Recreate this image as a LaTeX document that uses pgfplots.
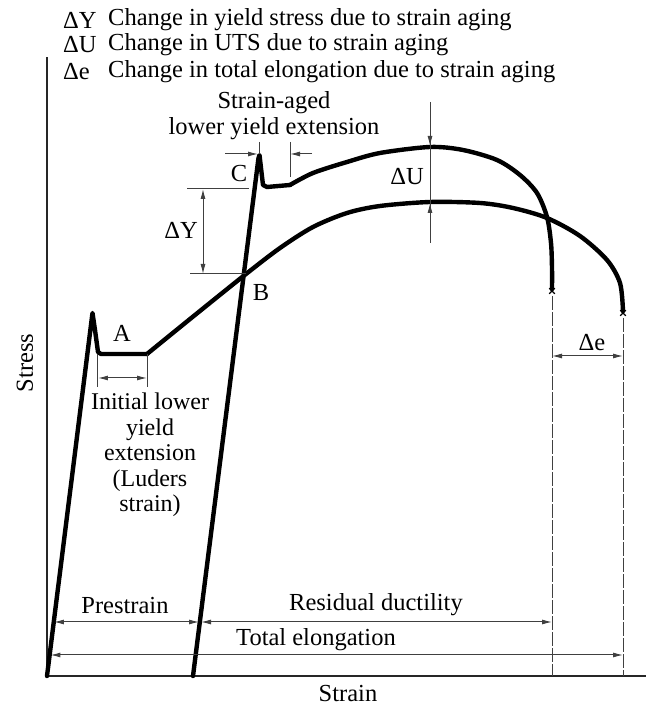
\documentclass[border=0pt]{standalone}
\usepackage{pgfplots}
\pgfplotsset{compat=1.18}
\usepackage{fontspec}
\setmainfont{Liberation Serif}
\usetikzlibrary{arrows.meta}
\begin{document}
\begin{tikzpicture}[
  every node/.append style={font=\fontsize{24.5bp}{26bp}\selectfont, inner sep=0pt},
  curve/.style={line width=4.4bp, black, line join=round, line cap=round},
  ann/.style={line width=1bp, black!75},
  dbl/.style={ann, {Latex[length=10bp,width=5bp]}-{Latex[length=10bp,width=5bp]}},
  sgl/.style={ann, -{Latex[length=10bp,width=5bp]}},
  frac/.style={line width=1bp, black!75, dash pattern=on 14bp off 2bp}]
\begin{axis}[scale only axis, width=599bp, height=619bp,
  xmin=47, xmax=646, ymin=32, ymax=651,
  axis x line*=bottom, axis y line*=left, ticks=none,
  axis line style={line width=1.6bp, black!85}, clip=false]
% original test curve
\addplot[curve, mark=none] coordinates {(47,32) (92.5,395) (95,378) (98,356) (101,354) (147,354)};
\addplot[curve, mark=none, smooth, tension=0.5] coordinates {(147,354) (195,393) (246,434) (280,460) (313,481) (347,495) (380,502) (430,506) (480,505) (513,500) (547,490) (580,472) (607,448) (620,425) (623,397)};
% strain-aged curve
\addplot[curve, mark=none] coordinates {(193,32) (258.5,550) (259.5,553) (261,540) (263,523) (267,521) (290,523)};
\addplot[curve, mark=none, smooth, tension=0.5] coordinates {(290,523) (313,535) (347,546) (380,555) (430,561) (463,558) (497,548) (520,533) (537,515) (547,491) (551,465) (552,440) (552,419)};
% fracture marks
\addplot[only marks, mark=x, mark size=4bp, line width=1.2bp, black] coordinates {(552,417) (623,395)};

% fracture verticals
\draw[frac] (axis cs:552,412) -- (axis cs:552,32);
\draw[frac] (axis cs:623,390) -- (axis cs:623,32);

% Luders
\draw[ann] (axis cs:98,354) -- (axis cs:98,321);
\draw[ann] (axis cs:147,354) -- (axis cs:147,321);
\draw[dbl] (axis cs:98,330) -- (axis cs:147,330);

% Delta Y
\draw[ann] (axis cs:187,519) -- (axis cs:249,519);
\draw[ann] (axis cs:190,434) -- (axis cs:246,434);
\draw[dbl] (axis cs:203,519) -- (axis cs:203,434);

% strain-aged lower yield extension
\draw[sgl] (axis cs:225,554) -- (axis cs:258,554);
\draw[sgl] (axis cs:312,554) -- (axis cs:290,554);
\draw[ann] (axis cs:290,566) -- (axis cs:290,531);
\draw[ann] (axis cs:259,566) -- (axis cs:259,554);

% Delta U
\draw[ann] (axis cs:430,606) -- (axis cs:430,465);
\draw[sgl] (axis cs:430,592) -- (axis cs:430,562);
\draw[sgl] (axis cs:430,478) -- (axis cs:430,505);

% Delta e
\draw[dbl] (axis cs:552,352) -- (axis cs:623,352);

% bottom dimensions
\draw[dbl] (axis cs:54,86) -- (axis cs:199,86);
\draw[dbl] (axis cs:201,86) -- (axis cs:552,86);
\draw[dbl] (axis cs:50.5,53) -- (axis cs:623,53);

% texts
\node[anchor=west] at (axis cs:63,688) {ΔY};
\node[anchor=west] at (axis cs:108,688) {Change in yield stress due to strain aging};
\node[anchor=west] at (axis cs:63,663) {ΔU};
\node[anchor=west] at (axis cs:108,663) {Change in UTS due to strain aging};
\node[anchor=west] at (axis cs:63,636) {Δe};
\node[anchor=west] at (axis cs:108,636) {Change in total elongation due to strain aging};
\node[align=center] at (axis cs:274,592) {Strain-aged\\lower yield extension};
\node at (axis cs:239,534) {C};
\node at (axis cs:122,375) {A};
\node at (axis cs:261,415) {B};
\node at (axis cs:407,531) {ΔU};
\node at (axis cs:181,478) {ΔY};
\node at (axis cs:592,365) {Δe};
\node[align=center, font=\fontsize{24bp}{25.5bp}\selectfont] at (axis cs:150,253) {Initial lower\\yield\\extension\\(Luders\\strain)};
\node at (axis cs:125,102) {Prestrain};
\node at (axis cs:376,103) {Residual ductility};
\node at (axis cs:316,68) {Total elongation};
\node at (axis cs:348,14) {Strain};
\node[rotate=90] at (axis cs:25,345) {Stress};
\path (axis cs:0,0) (axis cs:646,708);
\end{axis}
\end{tikzpicture}
\end{document}
